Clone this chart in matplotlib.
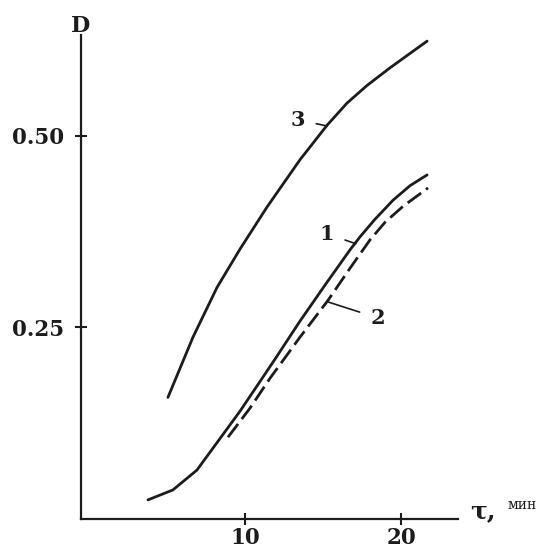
import matplotlib
matplotlib.use("Agg")
import matplotlib.pyplot as plt

plt.rcParams['font.family'] = ['DejaVu Serif']

# кривая 1 (сплошная)
t1 = [3.78, 5.38, 6.92, 8.21, 9.68, 10.77, 11.92, 13.53, 15.13, 16.73, 17.37, 18.33, 19.49, 20.58, 21.67]
d1 = [0.024, 0.037, 0.063, 0.099, 0.140, 0.173, 0.208, 0.258, 0.305, 0.351, 0.368, 0.391, 0.416, 0.435, 0.449]

# кривая 2 (штриховая)
t2 = [8.91, 10.32, 11.6, 13.53, 15.32, 16.73, 18.01, 18.97, 20.13, 21.73]
d2 = [0.106, 0.144, 0.183, 0.237, 0.285, 0.327, 0.364, 0.387, 0.408, 0.432]

# кривая 3
t3 = [5.06, 6.67, 8.21, 9.68, 11.41, 13.53, 15.26, 16.54, 17.82, 19.29, 20.58, 21.67]
d3 = [0.158, 0.237, 0.302, 0.352, 0.407, 0.469, 0.514, 0.543, 0.566, 0.589, 0.608, 0.624]

x_ticks = [10, 20]
y_ticks = [0.25, 0.50]
y_tick_labels = ['0.25', '0.50']

ink = '#1c1c1c'

fig = plt.figure(figsize=(5.5, 5.49), dpi=100)
ax = fig.add_axes([81 / 550, 1 - 519 / 549, (458 - 81) / 550, (519 - 35) / 549])

line_kw = dict(color=ink, lw=2.0, solid_capstyle='round', solid_joinstyle='round')
ax.plot(t1, d1, **line_kw)
ax.plot(t2, d2, color=ink, lw=2.0, linestyle=(0, (6, 2.2)))
ax.plot(t3, d3, **line_kw)

ax.set_xlim(-0.51, 23.65)
ax.set_ylim(-0.001, 0.632)

for s in ['top', 'right']:
    ax.spines[s].set_visible(False)
for s in ['left', 'bottom']:
    ax.spines[s].set_linewidth(1.6)
    ax.spines[s].set_color(ink)

ax.set_xticks(x_ticks)
ax.set_xticklabels([str(v) for v in x_ticks])
ax.set_yticks(y_ticks)
ax.set_yticklabels(y_tick_labels)
ax.tick_params(direction='inout', length=9, width=1.5, color=ink, labelcolor=ink, labelsize=15.5)
ax.tick_params(axis='y', pad=8)
ax.tick_params(axis='x', pad=1)
for lab in ax.get_xticklabels() + ax.get_yticklabels():
    lab.set_fontweight('bold')

# подписи кривых
lbl = dict(fontsize=15, fontweight='bold', color=ink, ha='center', va='center',
           arrowprops=dict(arrowstyle='-', color=ink, lw=1.2, shrinkA=6, shrinkB=0))
ax.annotate('3', xy=(15.26, 0.513), xytext=(13.4, 0.521), **lbl)
ax.annotate('1', xy=(17.1, 0.359), xytext=(15.26, 0.372), **lbl)
ax.annotate('2', xy=(15.3, 0.283), xytext=(18.5, 0.262), **lbl)

# оси
fig.text(81 / 550, 1 - 26 / 549, 'D', fontsize=16, fontweight='bold', color=ink, ha='center', va='center')
fig.text(483 / 550, 1 - 511 / 549, 'τ,', fontsize=18, fontweight='bold', color=ink, ha='center', va='center')
fig.text(522 / 550, 1 - 505 / 549, 'мин', fontsize=10, color=ink, ha='center', va='center')

fig.savefig('out.png', dpi=100, facecolor='white')
